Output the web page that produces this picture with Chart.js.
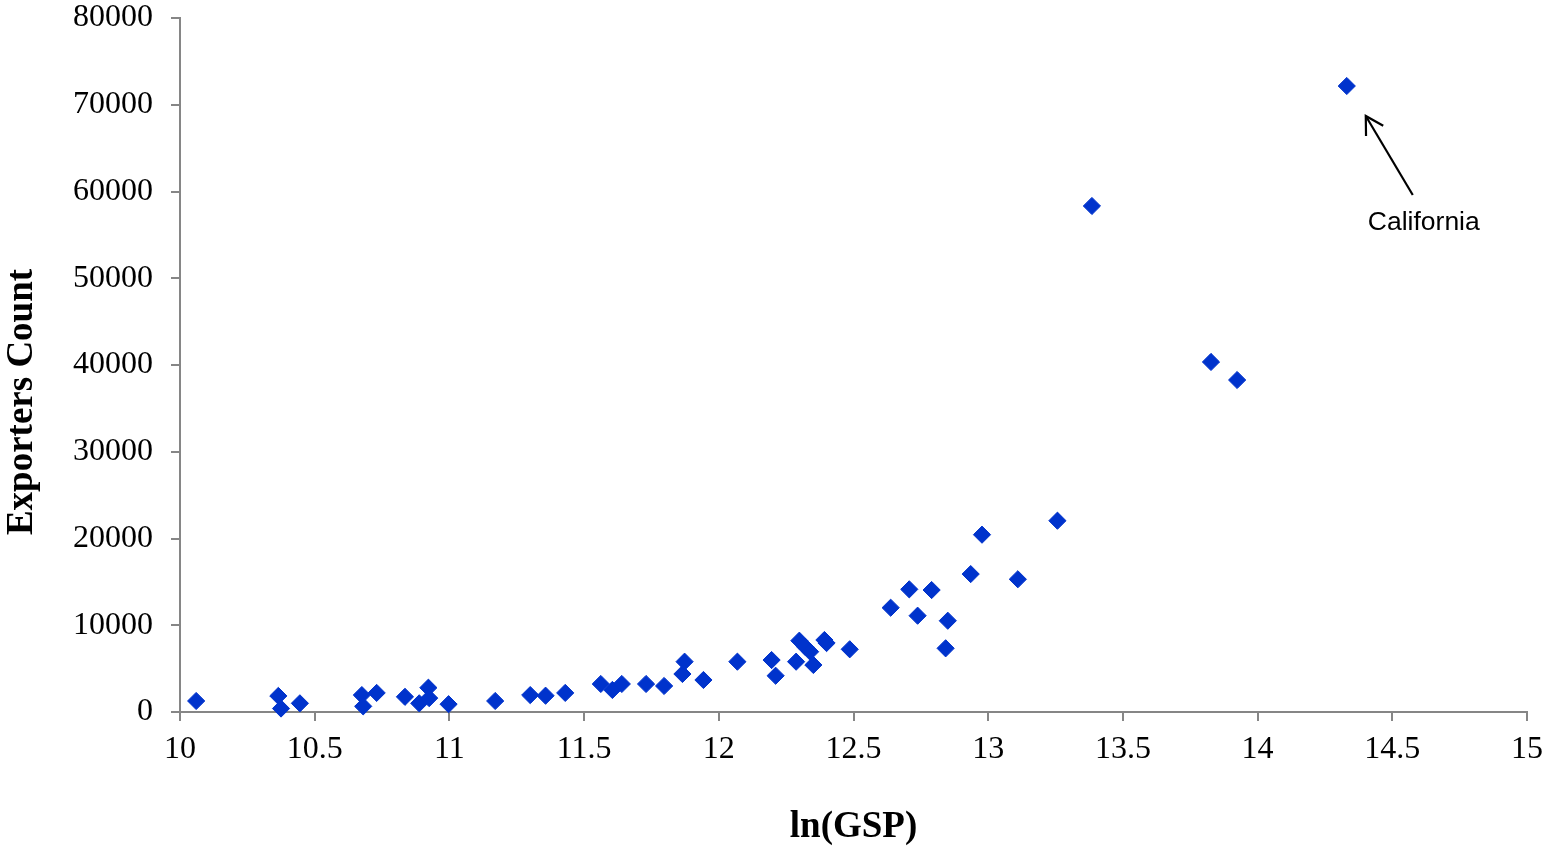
<!DOCTYPE html>
<html>
<head>
<meta charset="utf-8">
<script src="https://cdn.jsdelivr.net/npm/chart.js@4/dist/chart.umd.min.js"></script>
<style>
  html, body { margin: 0; padding: 0; background: #fff; }
  #wrap { width: 1543px; height: 846px; position: relative; }
</style>
</head>
<body>
<div id="wrap"><canvas id="c"></canvas></div>
<script>
// ln(GSP) values
const lnGSP = [
  10.06, 10.365, 10.375, 10.445, 10.675, 10.68, 10.73, 10.835, 10.888, 10.922,
  10.925, 10.997, 11.17, 11.30, 11.357, 11.43, 11.562, 11.605, 11.64, 11.73,
  11.797, 11.865, 11.873, 11.943, 12.069, 12.196, 12.211, 12.287, 12.299, 12.32,
  12.339, 12.351, 12.392, 12.40, 12.486, 12.638, 12.707, 12.738, 12.79, 12.85,
  12.842, 12.935, 12.977, 13.11, 13.257, 13.385, 13.827, 13.924, 14.331
];
// Exporters count values
const exporters = [
  1270, 1850, 400, 1000, 1950, 650, 2200, 1750, 1000, 2800,
  1600, 900, 1270, 1950, 1880, 2200, 3230, 2540, 3230, 3230,
  3000, 4380, 5800, 3690, 5800, 5990, 4180, 5800, 8220, 7530,
  6950, 5420, 8300, 7950, 7230, 12020, 14140, 11100, 14060, 10520,
  7340, 15900, 20440, 15300, 22050, 58330, 40350, 38270, 72160
];
const xTicks = [10, 10.5, 11, 11.5, 12, 12.5, 13, 13.5, 14, 14.5, 15];
const yTicks = [0, 10000, 20000, 30000, 40000, 50000, 60000, 70000, 80000];
const xTitle = 'ln(GSP)';
const yTitle = 'Exporters Count';
const annotationLabel = 'California';
const annotationIndex = 48;

const axisColor = '#868686';
const pointColor = '#0033CC';

const points = lnGSP.map((v, i) => ({ x: v, y: exporters[i] }));

const annotPlugin = {
  id: 'annot',
  afterDraw(chart) {
    const { ctx, chartArea, scales } = chart;
    ctx.save();
    // y-axis title
    ctx.fillStyle = '#000';
    ctx.font = 'bold 37px "Liberation Serif", "Times New Roman", serif';
    ctx.textAlign = 'center';
    ctx.textBaseline = 'alphabetic';
    ctx.translate(32, (chartArea.top + chartArea.bottom) / 2 + 37);
    ctx.rotate(-Math.PI / 2);
    ctx.fillText(yTitle, 0, 0);
    ctx.restore();

    // annotation arrow + label
    const px = scales.x.getPixelForValue(lnGSP[annotationIndex]);
    const py = scales.y.getPixelForValue(exporters[annotationIndex]);
    const tipX = px + 19, tipY = py + 30;
    const tailX = px + 66, tailY = py + 109;
    ctx.save();
    ctx.strokeStyle = '#000';
    ctx.lineWidth = 2.2;
    ctx.lineCap = 'butt';
    ctx.beginPath();
    ctx.moveTo(tailX, tailY);
    ctx.lineTo(tipX, tipY);
    ctx.stroke();
    const ang = Math.atan2(tailY - tipY, tailX - tipX);
    const wl = 20, wa = 30 * Math.PI / 180;
    ctx.beginPath();
    ctx.moveTo(tipX + wl * Math.cos(ang - wa), tipY + wl * Math.sin(ang - wa));
    ctx.lineTo(tipX, tipY);
    ctx.lineTo(tipX + wl * Math.cos(ang + wa), tipY + wl * Math.sin(ang + wa));
    ctx.stroke();
    ctx.fillStyle = '#000';
    ctx.font = '26.5px "Liberation Sans", Arial, sans-serif';
    ctx.textAlign = 'center';
    ctx.textBaseline = 'alphabetic';
    ctx.fillText(annotationLabel, px + 77, py + 144);
    ctx.restore();
  }
};

new Chart(document.getElementById('c'), {
  type: 'scatter',
  data: {
    datasets: [{
      data: points,
      pointStyle: 'rectRot',
      pointRadius: 8.6,
      pointHoverRadius: 8.6,
      borderWidth: 1,
      backgroundColor: pointColor,
      borderColor: pointColor,
      clip: false
    }]
  },
  options: {
    responsive: true,
    maintainAspectRatio: false,
    animation: false,
    events: [],
    layout: { autoPadding: false, padding: { top: 0, right: 0, left: 0, bottom: 0 } },
    plugins: { legend: { display: false }, tooltip: { enabled: false } },
    scales: {
      x: {
        type: 'linear',
        min: xTicks[0],
        max: xTicks[xTicks.length - 1],
        afterBuildTicks: (s) => { s.ticks = xTicks.map(v => ({ value: v })); },
        afterFit: (s) => { s.height = 134; s.paddingLeft = 0; s.paddingRight = 16; },
        border: { display: true, color: axisColor, width: 2 },
        grid: { display: true, drawOnChartArea: false, drawTicks: true, tickLength: 9, color: axisColor, lineWidth: 2 },
        ticks: {
          color: '#000',
          padding: 9,
          maxRotation: 0,
          autoSkip: false,
          font: { family: '"Liberation Serif", "Times New Roman", serif', size: 32 },
          callback: (v) => String(v)
        },
        title: {
          display: true,
          text: xTitle,
          color: '#000',
          padding: { top: 0, bottom: 0 },
          font: { family: '"Liberation Serif", "Times New Roman", serif', size: 37, weight: 'bold', lineHeight: 1 }
        }
      },
      y: {
        type: 'linear',
        min: yTicks[0],
        max: yTicks[yTicks.length - 1],
        afterBuildTicks: (s) => { s.ticks = yTicks.map(v => ({ value: v })); },
        afterFit: (s) => { s.width = 180; s.paddingTop = 18; s.paddingBottom = 0; },
        border: { display: true, color: axisColor, width: 2 },
        grid: { display: true, drawOnChartArea: false, drawTicks: true, tickLength: 9, color: axisColor, lineWidth: 2 },
        ticks: {
          color: '#000',
          padding: 18,
          autoSkip: false,
          font: { family: '"Liberation Serif", "Times New Roman", serif', size: 32 },
          callback: (v) => String(v)
        }
      }
    }
  },
  plugins: [annotPlugin]
});
</script>
</body>
</html>
